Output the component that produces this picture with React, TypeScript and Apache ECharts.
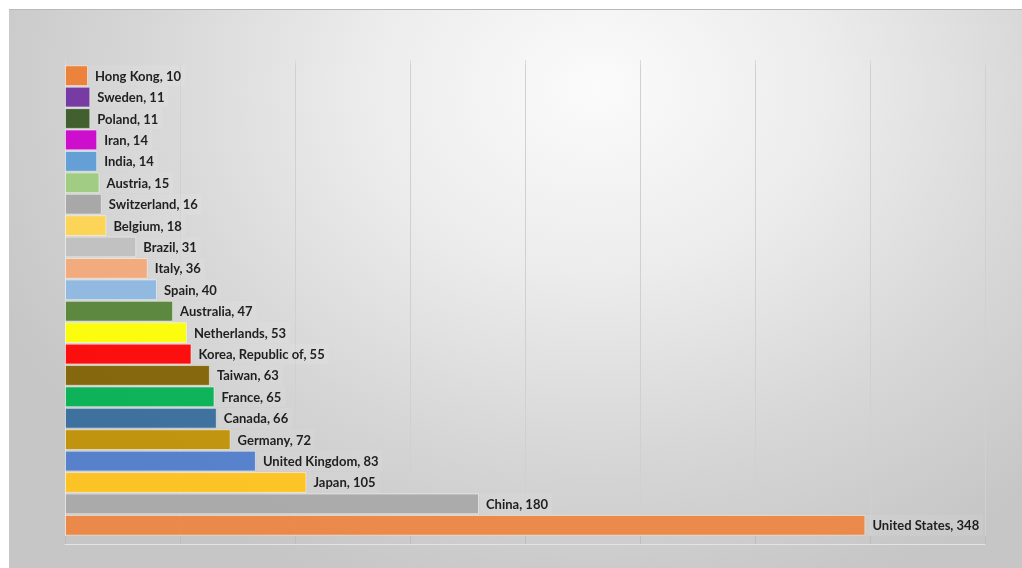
import React, { useEffect, useRef } from "react";
import * as echarts from "echarts";

const countries = [
  "Hong Kong", "Sweden", "Poland", "Iran", "India", "Austria", "Switzerland",
  "Belgium", "Brazil", "Italy", "Spain", "Australia", "Netherlands",
  "Korea, Republic of", "Taiwan", "France", "Canada", "Germany",
  "United Kingdom", "Japan", "China", "United States",
];
const counts = [10, 11, 11, 14, 14, 15, 16, 18, 31, 36, 40, 47, 53, 55, 63, 65, 66, 72, 83, 105, 180, 348];
const barColors = [
  "#ED7D31", "#7030A0", "#375623", "#CC00CC", "#5B9BD5", "#9DCB7E", "#A5A5A5",
  "#FFD44F", "#BFBFBF", "#F4A877", "#8DB8E2", "#548235", "#FFFF00",
  "#FF0000", "#806000", "#00B050", "#356A9C", "#BF9000",
  "#4F7CCB", "#FFC31A", "#A8A8A8", "#ED8440",
];
const axisMin = 0;
const axisMax = 400;
const axisStep = 50;

export default function App() {
  const ref = useRef<HTMLDivElement>(null);
  useEffect(() => {
    if (!ref.current) return;
    const chart = echarts.init(ref.current, undefined, { renderer: "svg" });
    chart.setOption({
      animation: false,
      backgroundColor: "transparent",
      grid: { left: 56, top: 55, width: 920, height: 471, containLabel: false },
      xAxis: [
        {
          type: "value", min: axisMin, max: axisMax, interval: axisStep,
          position: "bottom", offset: 8,
          axisLine: { show: true, lineStyle: { color: "#e4e4e4", width: 1 } },
          axisTick: { show: true, inside: true, length: 8, lineStyle: { color: "#bdbdbd" } },
          axisLabel: { show: false },
          splitLine: { show: true, lineStyle: { color: "#d0d0d0", width: 1 } },
        },
        {
          type: "value", min: axisMin, max: axisMax, interval: axisStep,
          position: "top", offset: 5,
          axisLine: { show: false },
          axisTick: { show: true, inside: true, length: 5, lineStyle: { color: "#dadada" } },
          axisLabel: { show: false },
          splitLine: { show: false },
        },
      ],
      yAxis: {
        type: "category", data: countries, inverse: true,
        axisLine: { show: true, lineStyle: { color: "#e2e2e2" } },
        axisTick: { show: false },
        axisLabel: { show: false },
      },
      series: [
        {
          type: "bar",
          xAxisIndex: 0,
          data: counts.map((v, i) => ({
            value: v,
            itemStyle: { color: barColors[i] },
          })),
          barCategoryGap: "3%",
          itemStyle: { opacity: 0.93, borderColor: "rgba(255,255,255,0.55)", borderWidth: 1 },
          label: {
            show: true,
            position: "right",
            distance: 1,
            formatter: (p: any) => `${p.name}, ${p.value}`,
            fontFamily: "Lato, 'Open Sans', sans-serif",
            fontWeight: "bold",
            fontSize: 13,
            color: "#111111",
            backgroundColor: "rgba(255,255,255,0.09)",
            padding: [4, 4, 4, 6],
          },
        },
      ],
    });
    return () => chart.dispose();
  }, []);
  return (
    <div
      style={{
        position: "fixed",
        left: 9,
        top: 9,
        width: 1013,
        height: 559,
        boxSizing: "border-box",
        borderTop: "1px solid #b9b9b9",
        background:
          "radial-gradient(ellipse 65% 95% at 58% 14%, #fbfbfb 0%, #ececec 35%, #d6d6d6 70%, #c6c6c6 100%)",
      }}
    >
      <div ref={ref} style={{ width: 1013, height: 558 }} />
    </div>
  );
}
